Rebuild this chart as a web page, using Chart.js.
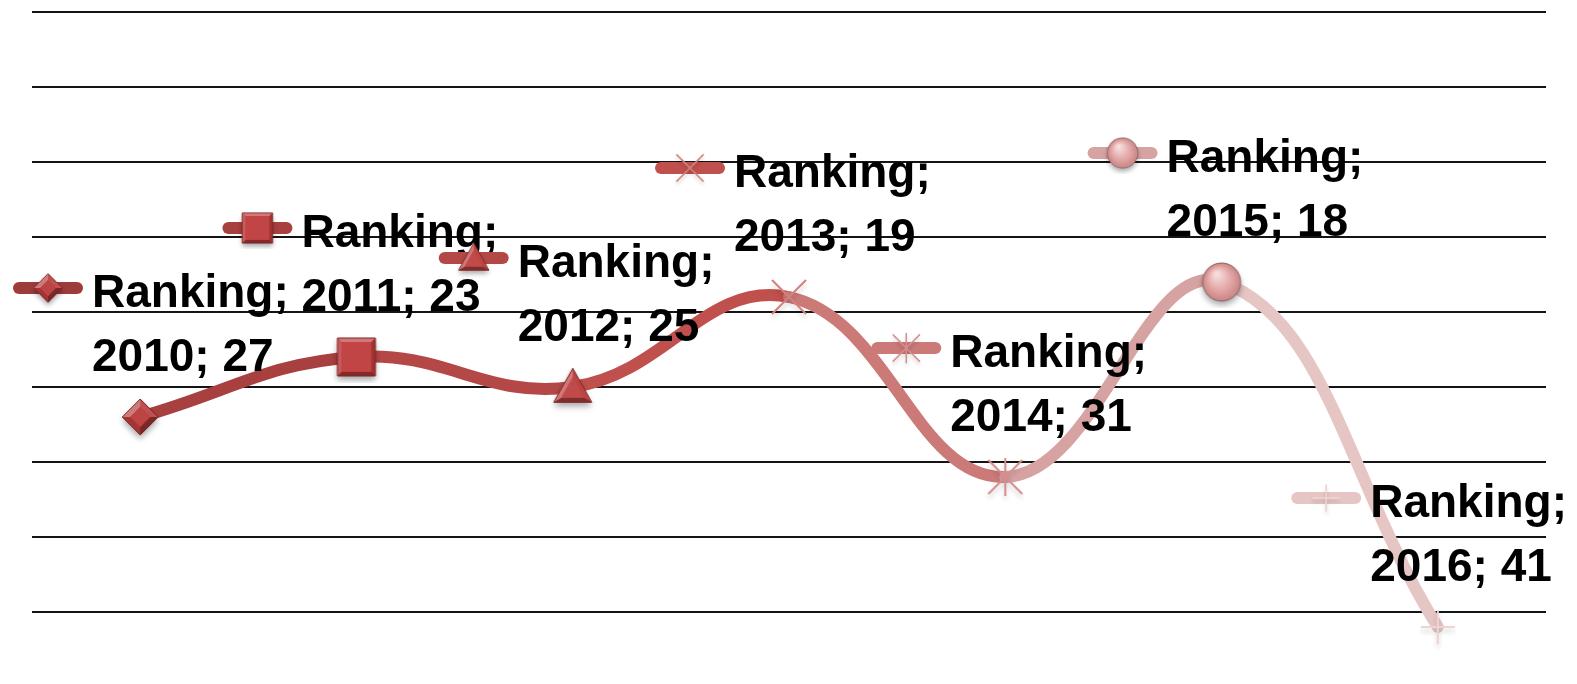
<!DOCTYPE html>
<html>
<head>
<meta charset="utf-8">
<script src="https://cdn.jsdelivr.net/npm/chart.js@4.4.1/dist/chart.umd.min.js"></script>
<style>
  html, body { margin: 0; padding: 0; background: #ffffff; }
  canvas { display: block; }
</style>
</head>
<body>
<canvas id="c" width="1577" height="684"></canvas>
<script>
// ---- data ----
const seriesName = 'Ranking';
const categories = ['2010', '2011', '2012', '2013', '2014', '2015', '2016'];
const rankings = [27, 23, 25, 19, 31, 18, 41];
const yMin = 0;
const yMax = 40;
const yStep = 5;

// ---- styles ----
const pointColors = ['#9E3B3B', '#A8403F', '#B44846', '#C0504D', '#CB7A78', '#D7A3A2', '#E6C6C5'];
const markerKinds = ['diamond', 'square', 'triangle', 'x', 'star', 'circle', 'plus'];

function hexToRgb(h) {
  const n = parseInt(h.slice(1), 16);
  return [(n >> 16) & 255, (n >> 8) & 255, n & 255];
}
function shade(hex, amt) {
  const [r, g, b] = hexToRgb(hex);
  const f = v => Math.round(amt >= 0 ? v + (255 - v) * amt : v * (1 + amt));
  return `rgb(${f(r)},${f(g)},${f(b)})`;
}

function bevelPoly(ctx, pts, base, k) {
  const cx = pts.reduce((s, p) => s + p[0], 0) / pts.length;
  const cy = pts.reduce((s, p) => s + p[1], 0) / pts.length;
  ctx.save();
  ctx.shadowColor = 'rgba(0,0,0,0.35)';
  ctx.shadowBlur = 6;
  ctx.shadowOffsetY = 4;
  ctx.beginPath();
  pts.forEach((p, i) => i ? ctx.lineTo(p[0], p[1]) : ctx.moveTo(p[0], p[1]));
  ctx.closePath();
  ctx.fillStyle = base;
  ctx.fill();
  ctx.restore();
  const inner = pts.map(p => [cx + (p[0] - cx) * k, cy + (p[1] - cy) * k]);
  const L = [-0.45, -0.89];
  for (let i = 0; i < pts.length; i++) {
    const a = pts[i], b = pts[(i + 1) % pts.length];
    const qa = inner[i], qb = inner[(i + 1) % pts.length];
    let nx = b[1] - a[1], ny = -(b[0] - a[0]);
    const mx = (a[0] + b[0]) / 2 - cx, my = (a[1] + b[1]) / 2 - cy;
    if (nx * mx + ny * my < 0) { nx = -nx; ny = -ny; }
    const len = Math.hypot(nx, ny);
    const d = (nx * L[0] + ny * L[1]) / len;
    ctx.beginPath();
    ctx.moveTo(a[0], a[1]); ctx.lineTo(b[0], b[1]);
    ctx.lineTo(qb[0], qb[1]); ctx.lineTo(qa[0], qa[1]);
    ctx.closePath();
    ctx.fillStyle = shade(base, d * 0.35);
    ctx.fill();
  }
  ctx.beginPath();
  inner.forEach((p, i) => i ? ctx.lineTo(p[0], p[1]) : ctx.moveTo(p[0], p[1]));
  ctx.closePath();
  ctx.fillStyle = shade(base, 0.05);
  ctx.fill();
  ctx.beginPath();
  pts.forEach((p, i) => i ? ctx.lineTo(p[0], p[1]) : ctx.moveTo(p[0], p[1]));
  ctx.closePath();
  ctx.strokeStyle = shade(base, -0.35);
  ctx.lineWidth = 1;
  ctx.stroke();
}

function strokeLines(ctx, segs, color) {
  ctx.save();
  ctx.shadowColor = 'rgba(0,0,0,0.2)';
  ctx.shadowBlur = 5;
  ctx.shadowOffsetY = 4;
  ctx.strokeStyle = color;
  ctx.lineWidth = 2;
  ctx.beginPath();
  segs.forEach(s => { ctx.moveTo(s[0], s[1]); ctx.lineTo(s[2], s[3]); });
  ctx.stroke();
  ctx.restore();
}

function makeMarker(kind) {
  const S = 52, c = S / 2;
  const cv = document.createElement('canvas');
  cv.width = S; cv.height = S;
  const ctx = cv.getContext('2d');
  if (kind === 'diamond') {
    const r = 18;
    bevelPoly(ctx, [[c, c - r], [c + r, c], [c, c + r], [c - r, c]], '#B83A3A', 0.55);
  } else if (kind === 'square') {
    const r = 19;
    bevelPoly(ctx, [[c - r, c - r], [c + r, c - r], [c + r, c + r], [c - r, c + r]], '#BE3B3B', 0.78);
  } else if (kind === 'triangle') {
    const r = 19, h = 34;
    bevelPoly(ctx, [[c, c - h * 0.55], [c + r, c + h * 0.45], [c - r, c + h * 0.45]], '#BD4141', 0.6);
  } else if (kind === 'x') {
    const r = 17;
    strokeLines(ctx, [[c - r, c - r, c + r, c + r], [c + r, c - r, c - r, c + r]], '#D4807E');
  } else if (kind === 'star') {
    const r = 17;
    strokeLines(ctx, [[c - r, c - r, c + r, c + r], [c + r, c - r, c - r, c + r], [c, c - r - 2, c, c + r + 2]], '#D68D8B');
  } else if (kind === 'plus') {
    const r = 17;
    strokeLines(ctx, [[c - r, c, c + r, c], [c, c - r, c, c + r]], '#EFD3D2');
  } else if (kind === 'circle') {
    const r = 19;
    ctx.save();
    ctx.shadowColor = 'rgba(0,0,0,0.35)';
    ctx.shadowBlur = 6;
    ctx.shadowOffsetY = 4;
    ctx.beginPath(); ctx.arc(c, c, r, 0, Math.PI * 2);
    ctx.fillStyle = '#D49494'; ctx.fill();
    ctx.restore();
    const g = ctx.createRadialGradient(c - 5, c - 8, 2, c, c, r);
    g.addColorStop(0, '#F6DCDC');
    g.addColorStop(0.55, '#E4A8A8');
    g.addColorStop(1, '#C98585');
    ctx.beginPath(); ctx.arc(c, c, r, 0, Math.PI * 2);
    ctx.fillStyle = g; ctx.fill();
    ctx.strokeStyle = '#8E6464'; ctx.lineWidth = 1; ctx.stroke();
  }
  return cv;
}

const markers = markerKinds.map(k => makeMarker(k));

const labelFont = 'bold 46px "Liberation Sans", Arial, sans-serif';

const labelPlugin = {
  id: 'excelLabels',
  afterDatasetsDraw(chart) {
    const ctx = chart.ctx;
    const meta = chart.getDatasetMeta(0);
    ctx.save();
    ctx.font = labelFont;
    ctx.textBaseline = 'alphabetic';
    ctx.fillStyle = '#000000';
    meta.data.forEach((pt, i) => {
      const line1 = seriesName + ';';
      const line2 = categories[i] + '; ' + rankings[i];
      const tw = Math.max(ctx.measureText(line1).width, ctx.measureText(line2).width);
      const boxW = 79 + tw;
      let keyLeft = pt.x - 134;
      keyLeft = Math.max(13, Math.min(keyLeft, 1567 - boxW));
      const keyY = pt.y - 129;
      ctx.beginPath();
      ctx.moveTo(keyLeft + 6, keyY);
      ctx.lineTo(keyLeft + 64, keyY);
      ctx.lineWidth = 12;
      ctx.lineCap = 'round';
      ctx.strokeStyle = pointColors[i];
      ctx.stroke();
      const m = markers[i];
      const sc = 0.8;
      ctx.drawImage(m, keyLeft + 35 - m.width * sc / 2, keyY - m.height * sc / 2, m.width * sc, m.height * sc);
      ctx.fillText(line1, keyLeft + 79, pt.y - 110);
      ctx.fillText(line2, keyLeft + 79, pt.y - 46);
    });
    ctx.restore();
  }
};

new Chart(document.getElementById('c'), {
  type: 'line',
  data: {
    labels: categories,
    datasets: [{
      label: seriesName,
      data: rankings,
      borderColor: pointColors[0],
      borderWidth: 12,
      borderCapStyle: 'round',
      borderJoinStyle: 'round',
      tension: 0.42,
      clip: false,
      fill: false,
      pointStyle: markers,
      pointRadius: 19,
      pointHoverRadius: 19,
      segment: {
        borderColor: ctx => pointColors[ctx.p1DataIndex]
      }
    }]
  },
  options: {
    responsive: false,
    animation: false,
    events: [],
    layout: { autoPadding: false, padding: { left: 32, right: 31, top: 12, bottom: 72 } },
    elements: { line: { capBezierPoints: false } },
    plugins: {
      legend: { display: false },
      tooltip: { enabled: false }
    },
    scales: {
      x: {
        type: 'category',
        offset: true,
        display: false
      },
      y: {
        reverse: true,
        min: yMin,
        max: yMax,
        ticks: { stepSize: yStep, display: false },
        grid: { color: '#141414', lineWidth: 2, drawTicks: false },
        border: { display: false }
      }
    }
  },
  plugins: [labelPlugin]
});
</script>
</body>
</html>
